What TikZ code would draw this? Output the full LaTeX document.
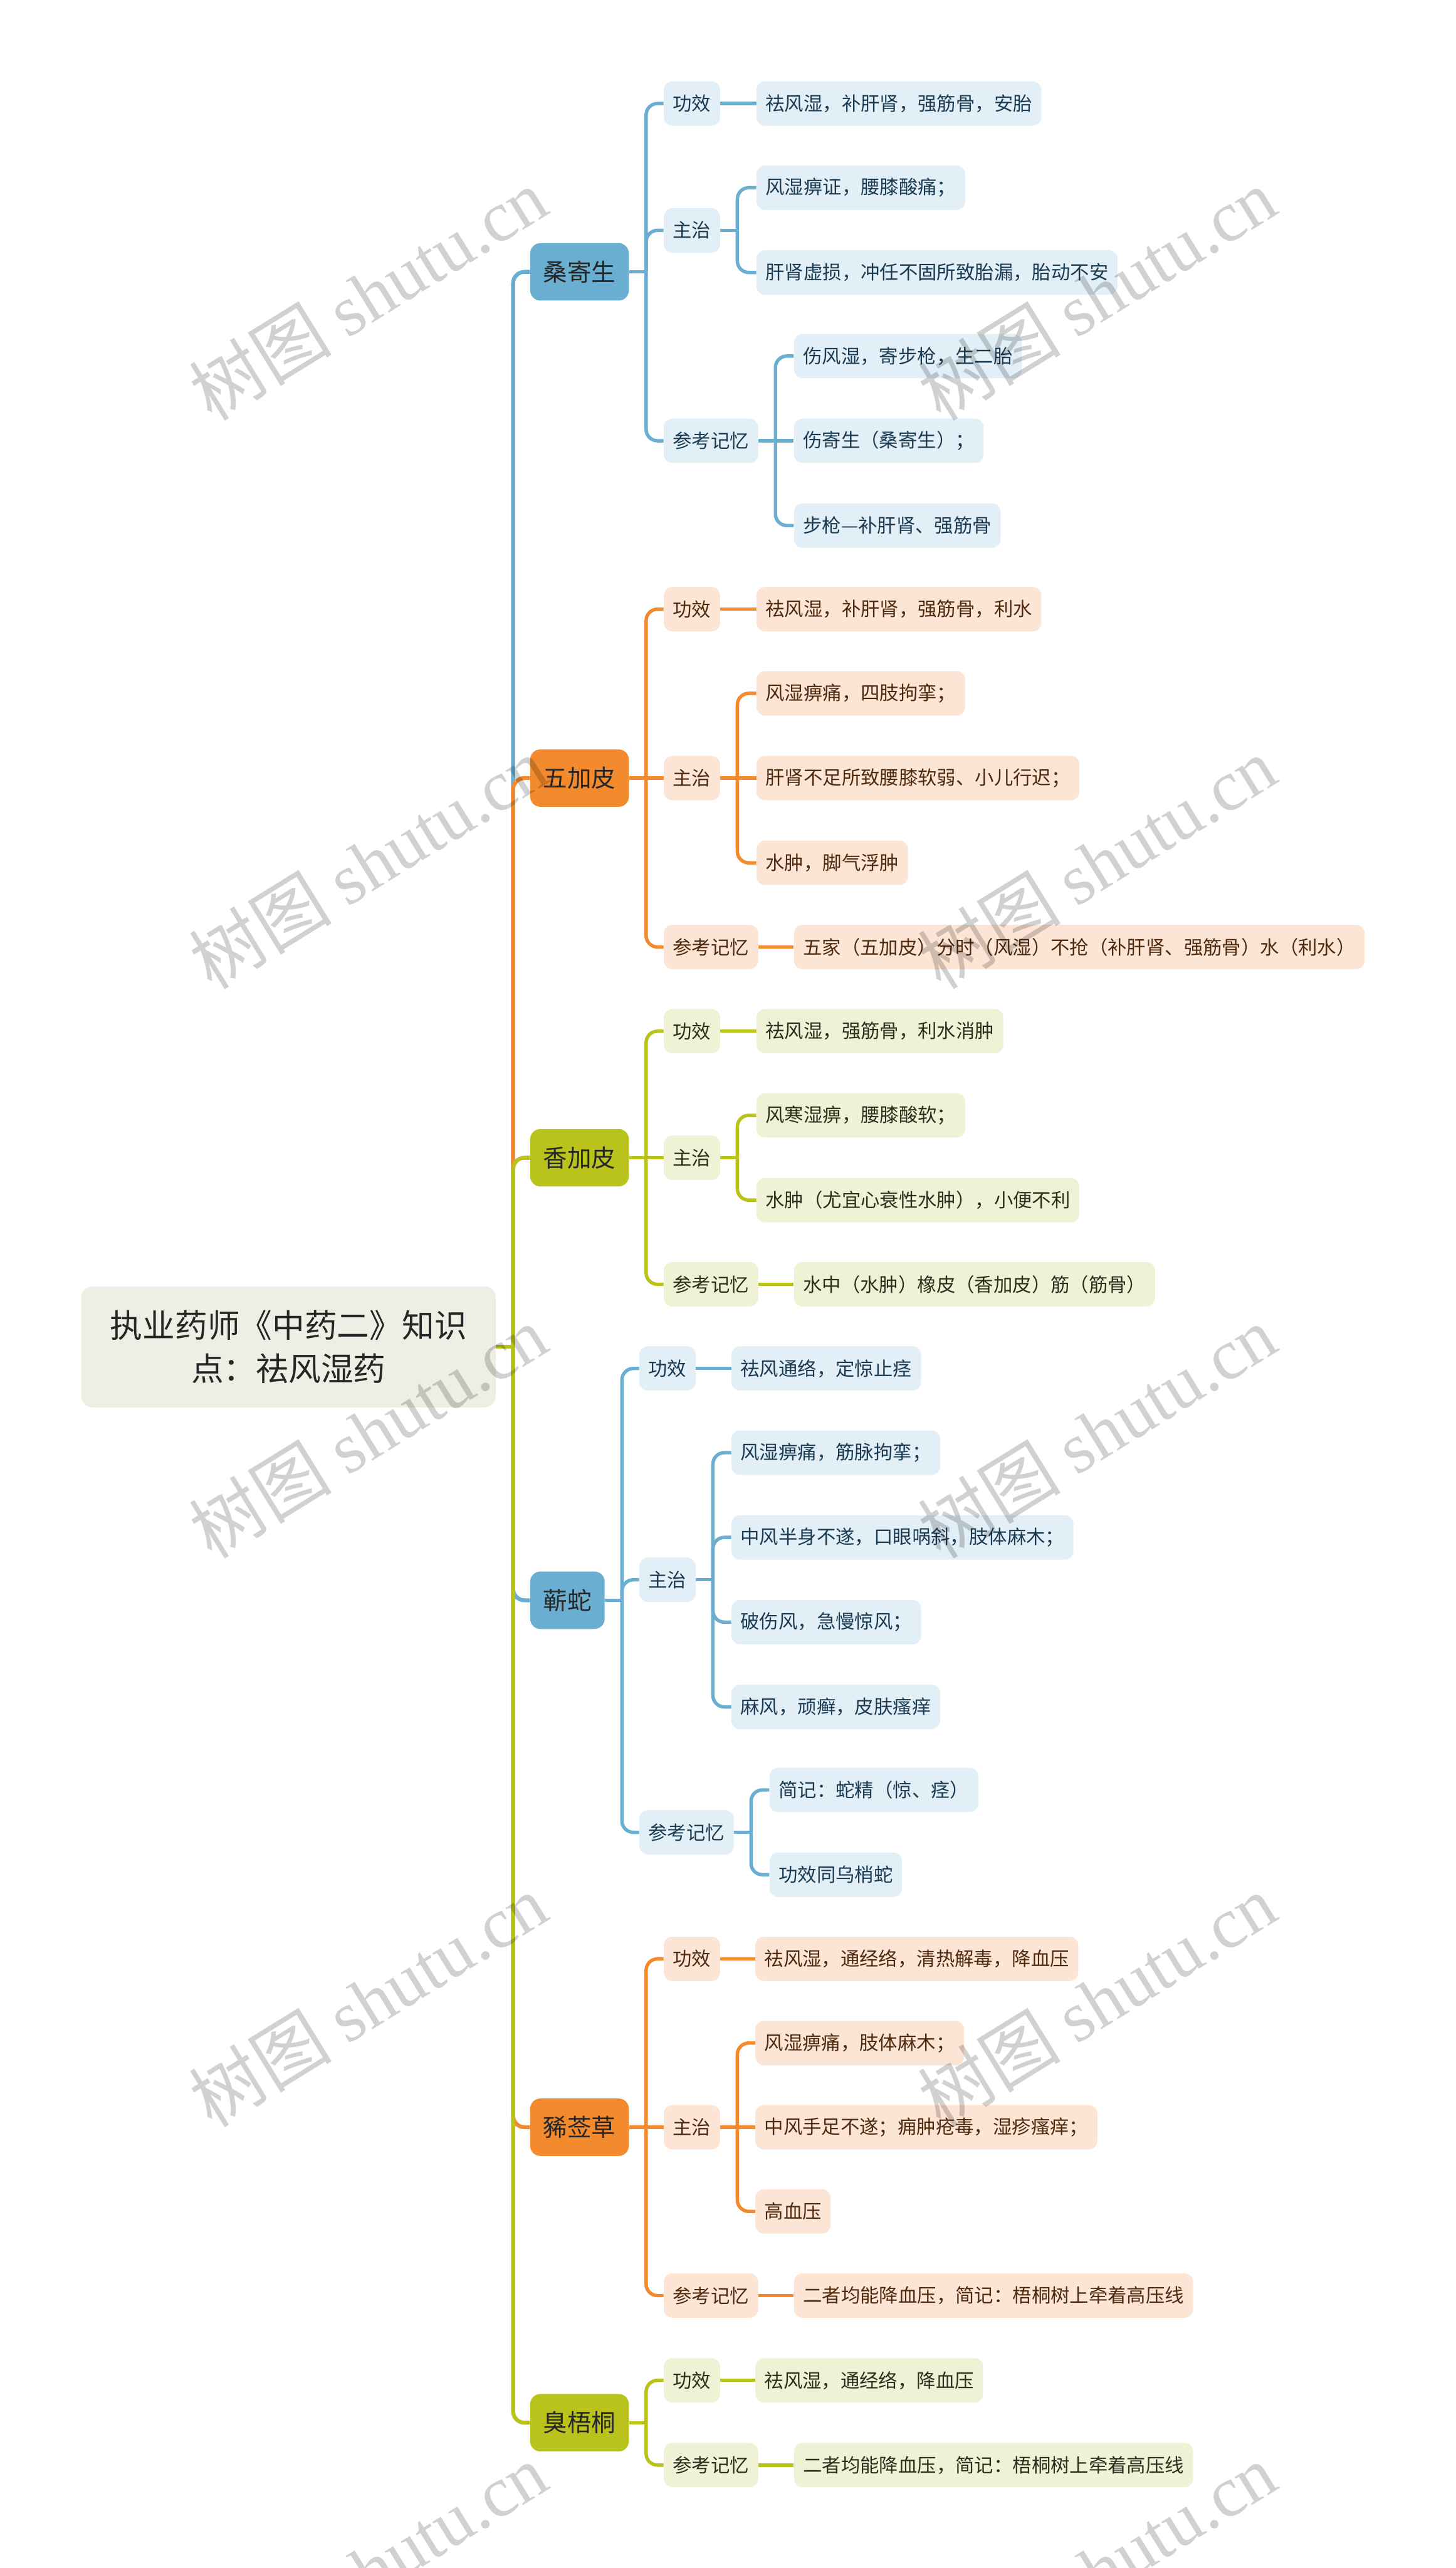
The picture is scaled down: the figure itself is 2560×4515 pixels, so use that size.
\documentclass[tikz,border=0pt]{standalone}
\usepackage{fontspec}
\setmainfont{Noto Sans CJK SC}
\newfontfamily\wmcjk{Noto Sans CJK SC}
\newfontfamily\wmlat{Liberation Serif}
\usetikzlibrary{backgrounds}
\definecolor{bMain}{HTML}{6AAED1}
\definecolor{bLeaf}{HTML}{E2EFF7}
\definecolor{bText}{HTML}{1B3B52}
\definecolor{oMain}{HTML}{F38A2D}
\definecolor{oLeaf}{HTML}{FCE5D5}
\definecolor{oText}{HTML}{4F2A0F}
\definecolor{gMain}{HTML}{BAC31B}
\definecolor{gLeaf}{HTML}{F0F2D5}
\definecolor{gText}{HTML}{2E2E1E}
\definecolor{rFill}{HTML}{EEEEE5}
\definecolor{lvText}{HTML}{262626}
\newcommand{\lk}[3]{\draw[#1] (#2.east) -- ++(30,0); \draw[#1,rounded corners=10pt] (#2.east) ++(30,0) |- (#3.west);}
\newcommand{\st}[3]{\draw[#1] (#2.east) -- (#3.west);}
\begin{document}
\begin{tikzpicture}[x=0.5pt,y=-0.5pt,
  leaf/.style={rounded corners=7.5pt, inner xsep=8pt, inner ysep=0pt, minimum height=39pt, anchor=west, font=\fontsize{16.75pt}{20pt}\selectfont},
  lone/.style={rounded corners=9pt, inner xsep=11.5pt, inner ysep=0pt, minimum height=50.5pt, anchor=west, text=lvText, font=\fontsize{21.25pt}{25pt}\selectfont},
  bl/.style={leaf, fill=bLeaf, text=bText},
  ol/.style={leaf, fill=oLeaf, text=oText},
  gl/.style={leaf, fill=gLeaf, text=gText},
  b1/.style={lone, fill=bMain},
  o1/.style={lone, fill=oMain},
  g1/.style={lone, fill=gMain},
  cb/.style={draw=bMain, line width=3pt},
  co/.style={draw=oMain, line width=3pt},
  cg/.style={draw=gMain, line width=3pt},
  cbm/.style={draw=bMain, line width=3.5pt},
  com/.style={draw=oMain, line width=3.5pt},
  cgm/.style={draw=gMain, line width=3.5pt},
  wm/.style={rotate=31.7, text=black, text opacity=0.18, inner sep=0pt, font=\fontsize{63pt}{63pt}\selectfont}
]
\useasboundingbox (0,0) rectangle (2560,4515);

% root
\node[fill=rFill, rounded corners=10pt, minimum width=364.5pt, minimum height=106.5pt, align=center, text=lvText, font=\fontsize{28.5pt}{38.5pt}\selectfont] (root) at (507.5,2368) {执业药师《中药二》知识\\点：祛风湿药};

% branch 1 桑寄生
\node[b1] (a1) at (932,478) {桑寄生};
\node[bl] (a1g) at (1167,182) {功效};
\node[bl] (a1g1) at (1330,182) {祛风湿，补肝肾，强筋骨，安胎};
\node[bl] (a1z) at (1167,405) {主治};
\node[bl] (a1z1) at (1330,330) {风湿痹证，腰膝酸痛；};
\node[bl] (a1z2) at (1330,479) {肝肾虚损，冲任不固所致胎漏，胎动不安};
\node[bl] (a1c) at (1167,775) {参考记忆};
\node[bl] (a1c1) at (1396,626) {伤风湿，寄步枪，生二胎};
\node[bl] (a1c2) at (1396,775) {伤寄生（桑寄生）；};
\node[bl] (a1c3) at (1396,924) {步枪—补肝肾、强筋骨};

% branch 2 五加皮
\node[o1] (a2) at (932,1368) {五加皮};
\node[ol] (a2g) at (1167,1071) {功效};
\node[ol] (a2g1) at (1330,1071) {祛风湿，补肝肾，强筋骨，利水};
\node[ol] (a2z) at (1167,1368) {主治};
\node[ol] (a2z1) at (1330,1219) {风湿痹痛，四肢拘挛；};
\node[ol] (a2z2) at (1330,1368) {肝肾不足所致腰膝软弱、小儿行迟；};
\node[ol] (a2z3) at (1330,1517) {水肿，脚气浮肿};
\node[ol] (a2c) at (1167,1665) {参考记忆};
\node[ol] (a2c1) at (1396,1665) {五家（五加皮）分时（风湿）不抢（补肝肾、强筋骨）水（利水）};

% branch 3 香加皮
\node[g1] (a3) at (932,2035.5) {香加皮};
\node[gl] (a3g) at (1167,1813) {功效};
\node[gl] (a3g1) at (1330,1813) {祛风湿，强筋骨，利水消肿};
\node[gl] (a3z) at (1167,2035.5) {主治};
\node[gl] (a3z1) at (1330,1961) {风寒湿痹，腰膝酸软；};
\node[gl] (a3z2) at (1330,2110) {水肿（尤宜心衰性水肿），小便不利};
\node[gl] (a3c) at (1167,2258) {参考记忆};
\node[gl] (a3c1) at (1396,2258) {水中（水肿）橡皮（香加皮）筋（筋骨）};

% branch 4 蕲蛇
\node[b1] (a4) at (932,2813.5) {蕲蛇};
\node[bl] (a4g) at (1124,2406) {功效};
\node[bl] (a4g1) at (1286,2406) {祛风通络，定惊止痉};
\node[bl] (a4z) at (1124,2777.5) {主治};
\node[bl] (a4z1) at (1286,2554) {风湿痹痛，筋脉拘挛；};
\node[bl] (a4z2) at (1286,2703) {中风半身不遂，口眼㖞斜，肢体麻木；};
\node[bl] (a4z3) at (1286,2852) {破伤风，急慢惊风；};
\node[bl] (a4z4) at (1286,3001) {麻风，顽癣，皮肤瘙痒};
\node[bl] (a4c) at (1124,3221.5) {参考记忆};
\node[bl] (a4c1) at (1353,3147) {简记：蛇精（惊、痉）};
\node[bl] (a4c2) at (1353,3296) {功效同乌梢蛇};

% branch 5 豨莶草
\node[o1] (a5) at (932,3740) {豨莶草};
\node[ol] (a5g) at (1167,3444) {功效};
\node[ol] (a5g1) at (1328,3444) {祛风湿，通经络，清热解毒，降血压};
\node[ol] (a5z) at (1167,3740) {主治};
\node[ol] (a5z1) at (1328,3592) {风湿痹痛，肢体麻木；};
\node[ol] (a5z2) at (1328,3740) {中风手足不遂；痈肿疮毒，湿疹瘙痒；};
\node[ol] (a5z3) at (1328,3888) {高血压};
\node[ol] (a5c) at (1167,4036) {参考记忆};
\node[ol] (a5c1) at (1396,4036) {二者均能降血压，简记：梧桐树上牵着高压线};

% branch 6 臭梧桐
\node[g1] (a6) at (932,4259.5) {臭梧桐};
\node[gl] (a6g) at (1167,4185) {功效};
\node[gl] (a6g1) at (1328,4185) {祛风湿，通经络，降血压};
\node[gl] (a6c) at (1167,4334) {参考记忆};
\node[gl] (a6c1) at (1396,4334) {二者均能降血压，简记：梧桐树上牵着高压线};

\begin{scope}[on background layer]
\fill[white] (0,0) rectangle (2560,4515);
% level 1
\draw[cgm] (root.east) -- ++(30,0);
\draw[cbm,rounded corners=10pt] (root.east) ++(30,0) |- (a1.west);
\draw[com,rounded corners=10pt] (root.east) ++(30,0) |- (a2.west);
\draw[cgm,rounded corners=10pt] (root.east) ++(30,0) |- (a3.west);
\draw[cbm,rounded corners=10pt] (root.east) ++(30,0) |- (a4.west);
\draw[com,rounded corners=10pt] (root.east) ++(30,0) |- (a5.west);
\draw[cgm,rounded corners=10pt] (root.east) ++(30,0) |- (a6.west);
% branch 1
\lk{cb}{a1}{a1g} \lk{cb}{a1}{a1z} \lk{cb}{a1}{a1c}
\st{cb}{a1g}{a1g1}
\lk{cb}{a1z}{a1z1} \lk{cb}{a1z}{a1z2}
\lk{cb}{a1c}{a1c1} \st{cb}{a1c}{a1c2} \lk{cb}{a1c}{a1c3}
% branch 2
\lk{co}{a2}{a2g} \st{co}{a2}{a2z} \lk{co}{a2}{a2c}
\st{co}{a2g}{a2g1}
\lk{co}{a2z}{a2z1} \st{co}{a2z}{a2z2} \lk{co}{a2z}{a2z3}
\st{co}{a2c}{a2c1}
% branch 3
\lk{cg}{a3}{a3g} \st{cg}{a3}{a3z} \lk{cg}{a3}{a3c}
\st{cg}{a3g}{a3g1}
\lk{cg}{a3z}{a3z1} \lk{cg}{a3z}{a3z2}
\st{cg}{a3c}{a3c1}
% branch 4
\lk{cb}{a4}{a4g} \lk{cb}{a4}{a4z} \lk{cb}{a4}{a4c}
\st{cb}{a4g}{a4g1}
\lk{cb}{a4z}{a4z1} \lk{cb}{a4z}{a4z2} \lk{cb}{a4z}{a4z3} \lk{cb}{a4z}{a4z4}
\lk{cb}{a4c}{a4c1} \lk{cb}{a4c}{a4c2}
% branch 5
\lk{co}{a5}{a5g} \st{co}{a5}{a5z} \lk{co}{a5}{a5c}
\st{co}{a5g}{a5g1}
\lk{co}{a5z}{a5z1} \st{co}{a5z}{a5z2} \lk{co}{a5z}{a5z3}
\st{co}{a5c}{a5c1}
% branch 6
\lk{cg}{a6}{a6g} \lk{cg}{a6}{a6c}
\st{cg}{a6g}{a6g1}
\st{cg}{a6c}{a6c1}
\end{scope}

% watermarks
\foreach \wy [count=\i] in {517,1517,2517,3517,4517}{
  \node[wm] (wl\i) at (647,\wy) {{\wmcjk 树图} {\wmlat shutu.cn}};
  \node[wm] (wr\i) at (1929,\wy) {{\wmcjk 树图} {\wmlat shutu.cn}};
}
\end{tikzpicture}
\end{document}
